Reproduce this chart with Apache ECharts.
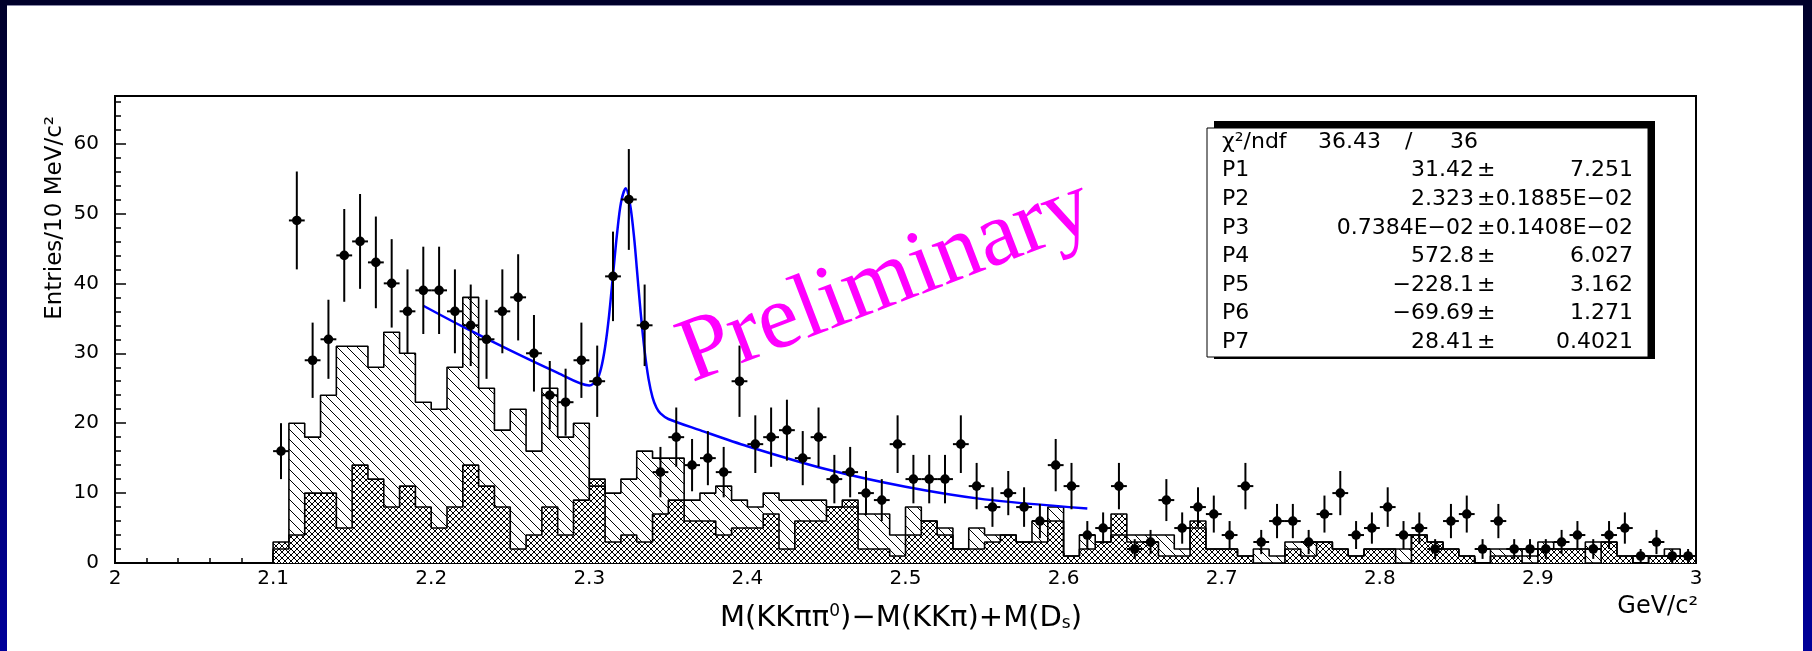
<!DOCTYPE html>
<html>
<head>
<meta charset="utf-8">
<script src="https://cdn.jsdelivr.net/npm/echarts@6/dist/echarts.min.js"></script>
<style>
html, body { margin: 0; padding: 0; }
body {
    width: 1812px; height: 651px; overflow: hidden; position: relative;
    background: linear-gradient(to bottom, #00002a 0%, #000060 50%, #00009a 100%);
}
#panel { position: absolute; left: 7px; top: 5px; width: 1796px; height: 646px; background: #fff; border-top: 1px solid #8a8aa8; }
#chart { position: absolute; left: 0; top: 0; width: 1812px; height: 651px; }
</style>
</head>
<body>
<div id="panel"></div>
<div id="chart"></div>
<script>
// binning: 10 MeV bins from 2.1 to 3.0 GeV
const binStart = 2.1;
const binWidth = 0.01;

// data points (entries per bin)
const dataCounts = [
    16, 49, 29, 32, 44, 46, 43, 40, 36, 39,
    39, 36, 34, 32, 36, 38, 30, 24, 23, 29,
    26, 41, 52, 34, 13, 18, 14, 15, 13, 26,
    17, 18, 19, 15, 18, 12, 13, 10, 9, 17,
    12, 12, 12, 17, 11, 8, 10, 8, 6, 14,
    11, 4, 5, 11, 2, 3, 9, 5, 8, 7,
    4, 11, 3, 6, 6, 3, 7, 10, 4, 5,
    8, 4, 5, 2, 6, 7, 2, 6, 2, 2,
    2, 3, 4, 2, 4, 5, 1, 3, 1, 1
];

// single-hatched histogram
const hatchedCounts = [
    2, 20, 18, 24, 31, 31, 28, 33, 30, 23,
    22, 28, 38, 25, 19, 22, 16, 25, 18, 20,
    11, 10, 12, 16, 15, 15, 9, 10, 11, 9,
    8, 10, 9, 9, 9, 8, 8, 7, 7, 4,
    8, 6, 5, 2, 5, 4, 4, 3, 6, 8,
    1, 4, 3, 4, 4, 4, 4, 2, 5, 2,
    2, 1, 2, 1, 3, 3, 3, 2, 1, 2,
    2, 2, 4, 3, 2, 1, 0, 2, 2, 1,
    3, 2, 2, 3, 3, 1, 0, 1, 2, 1
];

// cross-hatched histogram
const crossCounts = [
    3, 4, 10, 10, 5, 14, 12, 8, 11, 8,
    5, 8, 14, 11, 8, 2, 4, 8, 4, 9,
    12, 3, 4, 3, 7, 9, 6, 6, 4, 5,
    5, 7, 2, 6, 6, 8, 9, 2, 2, 1,
    4, 6, 4, 2, 2, 3, 4, 3, 3, 6,
    1, 2, 3, 7, 3, 3, 1, 1, 6, 2,
    2, 1, 0, 0, 2, 1, 3, 2, 1, 2,
    2, 0, 4, 3, 2, 1, 0, 1, 1, 0,
    2, 2, 2, 0, 3, 1, 0, 1, 1, 1
];

// fitted curve
const fitX = [2.195, 2.22, 2.25, 2.28, 2.30, 2.305, 2.3075, 2.31, 2.3125, 2.315, 2.3175, 2.32, 2.323, 2.326,
    2.3285, 2.33, 2.3325, 2.335, 2.3375, 2.34, 2.3425, 2.345, 2.35, 2.37, 2.40, 2.45, 2.50, 2.55, 2.615];
const fitY = [36.8, 33.8, 30.4, 27.2, 25.4, 26.3, 27.9, 30.9, 35.4, 41.2, 47.0, 51.5, 53.6, 51.0,
    46.2, 42.3, 35.8, 30.3, 26.3, 23.7, 22.2, 21.4, 20.6, 19.0, 16.7, 13.4, 10.9, 9.1, 7.8];

// fit statistics box
const chi2Text = ['36.43', '36'];
const statNames = ['P1', 'P2', 'P3', 'P4', 'P5', 'P6', 'P7'];
const statValues = ['31.42', '2.323', '0.7384E\u221202', '572.8', '\u2212228.1', '\u221269.69', '28.41'];
const statErrors = ['7.251', '0.1885E\u221202', '0.1408E\u221202', '6.027', '3.162', '1.271', '0.4021'];

const FONT = 'DejaVu Sans';

function hatchPattern(cross) {
    const s = cross ? 6 : 10;
    const c = document.createElement('canvas');
    c.width = s;
    c.height = s;
    const g = c.getContext('2d');
    g.fillStyle = '#fff';
    g.fillRect(0, 0, s, s);
    g.strokeStyle = '#000';
    g.lineWidth = 1;
    g.beginPath();
    g.moveTo(-1, -1);
    g.lineTo(s + 1, s + 1);
    if (cross) {
        g.moveTo(s + 1, -1);
        g.lineTo(-1, s + 1);
    }
    g.stroke();
    return c;
}

function stepData(counts) {
    const end = +(binStart + counts.length * binWidth).toFixed(3);
    const pts = [[binStart, 0]];
    counts.forEach((c, i) => pts.push([+(binStart + i * binWidth).toFixed(3), c]));
    pts.push([end, counts[counts.length - 1]]);
    pts.push([end, 0]);
    return pts;
}

function histSeries(counts, cross) {
    return {
        type: 'line',
        step: 'end',
        data: stepData(counts),
        showSymbol: false,
        symbol: 'none',
        lineStyle: { color: '#000', width: 1.6 },
        areaStyle: { color: { image: hatchPattern(cross), repeat: 'repeat' }, opacity: 1 },
        silent: true
    };
}

const chart = echarts.init(document.getElementById('chart'));

const statTexts = [];
const rowY0 = 142, rowStep = 28.6;
const txt = (x, y, text, align) => ({
    type: 'text', x: x, y: y, z: 12,
    style: { text: text, font: '22px "' + FONT + '"', fill: '#000', align: align, verticalAlign: 'middle' }
});
statTexts.push(txt(1222, rowY0, '\u03c7\u00b2/ndf', 'left'));
statTexts.push(txt(1318, rowY0, chi2Text[0], 'left'));
statTexts.push(txt(1405, rowY0, '/', 'left'));
statTexts.push(txt(1450, rowY0, chi2Text[1], 'left'));
statNames.forEach((name, i) => {
    const y = rowY0 + rowStep * (i + 1);
    statTexts.push(txt(1222, y, name, 'left'));
    statTexts.push(txt(1474, y, statValues[i], 'right'));
    statTexts.push(txt(1477, y, '\u00b1', 'left'));
    statTexts.push(txt(1633, y, statErrors[i], 'right'));
});

const option = {
    animation: false,
    backgroundColor: 'transparent',
    grid: {
        left: 115, top: 96, width: 1581, height: 467,
        show: true, borderColor: '#000', borderWidth: 2, backgroundColor: 'transparent'
    },
    xAxis: {
        type: 'value', min: 2, max: 3, interval: 0.1,
        axisLine: { show: true, lineStyle: { color: '#000', width: 2 } },
        axisTick: { show: true, inside: true, length: 10, lineStyle: { color: '#000', width: 1.5 } },
        minorTick: { show: true, splitNumber: 5, length: 5, lineStyle: { color: '#000', width: 1.5 } },
        splitLine: { show: false },
        axisLabel: {
            color: '#000', fontFamily: FONT, fontSize: 20, margin: 6,
            formatter: v => String(Math.round(v * 10) / 10)
        }
    },
    yAxis: {
        type: 'value', min: 0, max: 66.8, interval: 10,
        axisLine: { show: true, lineStyle: { color: '#000', width: 2 } },
        axisTick: { show: true, inside: true, length: 11, lineStyle: { color: '#000', width: 1.5 } },
        minorTick: { show: true, splitNumber: 5, length: 6, lineStyle: { color: '#000', width: 1.5 } },
        splitLine: { show: false },
        axisLabel: { color: '#000', fontFamily: FONT, fontSize: 20, margin: 16, showMaxLabel: false }
    },
    series: [
        histSeries(hatchedCounts, false),
        histSeries(crossCounts, true),
        {
            type: 'line',
            data: fitX.map((x, i) => [x, fitY[i]]),
            showSymbol: false,
            symbol: 'none',
            smooth: 0.3,
            lineStyle: { color: '#0000ff', width: 2.5 },
            z: 3
        },
        {
            type: 'custom',
            z: 4,
            data: dataCounts.map((n, i) => [binStart + (i + 0.5) * binWidth, n]),
            renderItem: (params, api) => {
                const x = api.value(0);
                const n = api.value(1);
                const err = Math.sqrt(n);
                const c = api.coord([x, n]);
                const top = api.coord([x, n + err]);
                const bot = api.coord([x, Math.max(n - err, 0)]);
                const left = api.coord([x - binWidth / 2, n]);
                const right = api.coord([x + binWidth / 2, n]);
                return {
                    type: 'group',
                    children: [
                        { type: 'line', shape: { x1: c[0], y1: top[1], x2: c[0], y2: bot[1] }, style: { stroke: '#000', lineWidth: 2 } },
                        { type: 'line', shape: { x1: left[0], y1: c[1], x2: right[0], y2: c[1] }, style: { stroke: '#000', lineWidth: 2 } },
                        { type: 'circle', shape: { cx: c[0], cy: c[1], r: 4.8 }, style: { fill: '#000' } }
                    ]
                };
            }
        }
    ],
    graphic: [
        {
            type: 'text', x: 55, y: 116, rotation: Math.PI / 2,
            style: { text: 'Entries/10 MeV/c\u00b2', font: '23px "' + FONT + '"', fill: '#000', align: 'right', verticalAlign: 'middle' }
        },
        {
            type: 'text', x: 901, y: 618,
            style: {
                text: 'M(KK\u03c0\u03c0{sup|0})\u2212M(KK\u03c0)+M(D{sub|s})',
                font: '29px "' + FONT + '"', fill: '#000', align: 'center', verticalAlign: 'middle',
                rich: {
                    sup: { fontSize: 17, fontFamily: FONT, verticalAlign: 'top', fill: '#000' },
                    sub: { fontSize: 17, fontFamily: FONT, verticalAlign: 'bottom', fill: '#000' }
                }
            }
        },
        {
            type: 'text', x: 1698, y: 607,
            style: { text: 'GeV/c\u00b2', font: '24px "' + FONT + '"', fill: '#000', align: 'right', verticalAlign: 'middle' }
        },
        {
            type: 'rect', shape: { x: 1214, y: 121, width: 441, height: 238 },
            style: { fill: '#000' }, z: 10
        },
        {
            type: 'rect', shape: { x: 1207, y: 128, width: 441, height: 229 },
            style: { fill: '#fff', stroke: '#000', lineWidth: 1 }, z: 11
        },
        {
            type: 'group', z: 12,
            children: statTexts
        },
        {
            type: 'text', x: 886, y: 282, rotation: 21 * Math.PI / 180, z: 13,
            style: { text: 'Preliminary', font: '92px "Liberation Serif"', fill: '#ff00ff', align: 'center', verticalAlign: 'middle' }
        }
    ]
};

chart.setOption(option);
</script>
</body>
</html>
